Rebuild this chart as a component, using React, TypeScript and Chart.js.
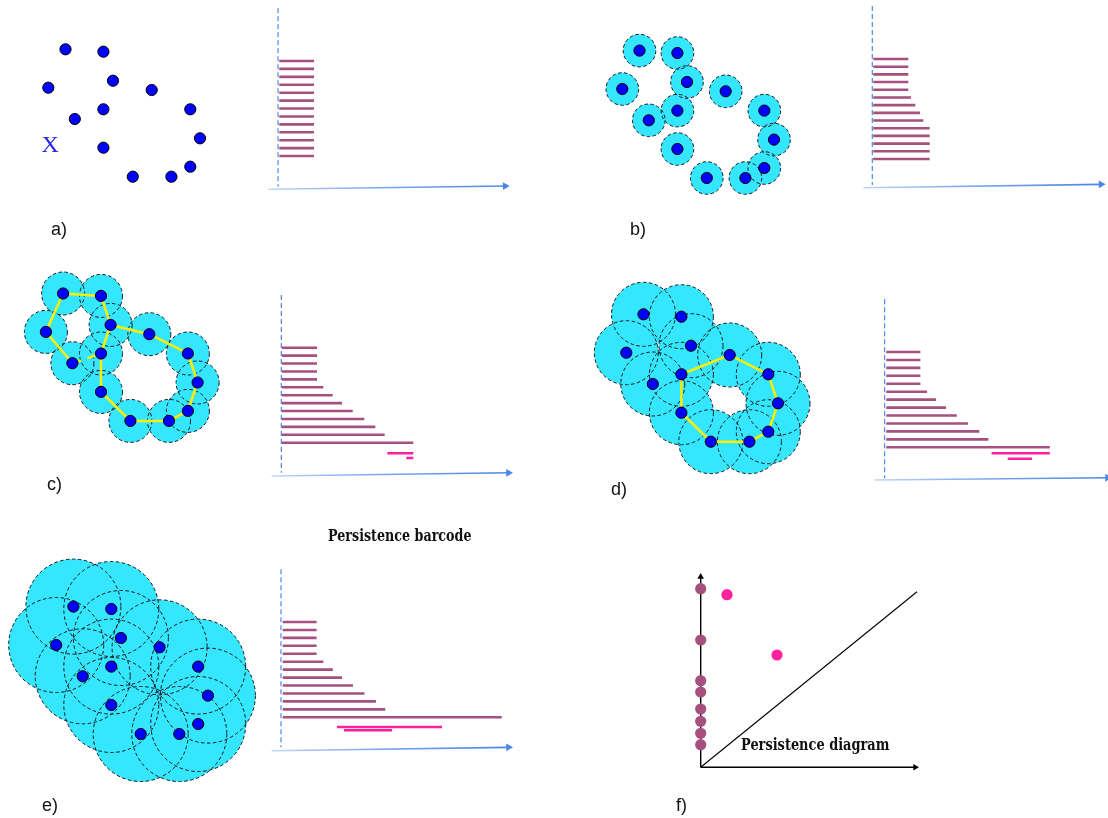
import React, { useEffect, useRef } from 'react';
import { Chart, registerables } from 'chart.js';
Chart.register(...registerables);

// ---------------- DATA ----------------
// The 13-point cloud X (same cloud in every filtration panel a–e)
const cloudX = [65.5, 103.4, 113.0, 48.3, 151.7, 103.4, 190.3, 74.8, 200.0, 103.4, 190.3, 132.8, 171.4];
const cloudY = [49.3, 51.7, 80.7, 87.7, 90.0, 109.3, 109.3, 119.0, 138.3, 147.7, 166.7, 176.7, 176.7];

// Filtration radius (ball radius) shown in panels a..e
const ballRadius = [0, 16.3, 21.5, 32, 47.5];

// 1-cycles drawn in yellow (indices into the cloud)
const cycleC = [7, 3, 0, 1, 2, 4, 6, 8, 10, 12, 11, 9, 5, 2];
const cycleCBroken = [7, 5];
const cycleD = [4, 6, 8, 10, 12, 11, 9, 5, 4];

// Persistence barcodes — H0 bar lengths (birth = 0)
const h0A = [34.7, 34.7, 34.7, 34.7, 34.7, 34.7, 34.7, 34.7, 34.7, 34.7, 34.7, 34.7, 34.7];
const h0B = [35, 35, 35, 35, 35, 37.7, 42, 46.7, 50, 56.4, 56.4, 56.4, 56.4, 56.4];
const h0C = [35, 35, 35, 35, 35, 41.3, 50.7, 60, 70.7, 82.3, 93.3, 102.7, 131.3];
const h0D = [34.1, 34.1, 34.1, 34.1, 34.1, 40.7, 49.8, 59.7, 70.5, 81.7, 93, 102.1, 163.5];
const h0E = [33.8, 33.8, 33.8, 33.8, 33.8, 40.6, 50, 59.2, 70.2, 81.7, 93.1, 102.4, 218.9];
// H1 bars (birth, death)
const h1BirthC = [105.3, 124.3];
const h1DeathC = [131.3, 131.3];
const h1BirthD = [105.3, 121.4];
const h1DeathD = [163.5, 145.7];
const h1BirthE = [54.1, 61.2];
const h1DeathE = [159.2, 109.2];

// Persistence diagram
const pdH0Death = [178.6, 127.3, 86.6, 75.3, 58.3, 46.0, 34.0, 22.6];
const pdH1Birth = [26.3, 76.3];
const pdH1Death = [172.6, 112.3];
const pdDiagEnd = [216.3, 175.6];

// Text
const panelLabels = ['a)', 'b)', 'c)', 'd)', 'e)', 'f)'];
const cloudLabel = 'X';
const barcodeTitle = 'Persistence barcode';
const diagramTitle = 'Persistence diagram';

// ---------------- LAYOUT / STYLE ----------------
const W = 1108;
const H = 818;
const cloudOffset = [[0, 0], [574, 1.3], [-2.4, 244.2], [578, 265], [7.9, 557.3]];
const barLayout = [
  { axisX: 278, top: 8.3, bottom: 186.7, a0: [268.3, 189.3], a1: [509.7, 186], start: 279.3, row0: 61, step: 7.92, h1Rows: [] as number[] },
  { axisX: 872.3, top: 6, bottom: 185, a0: [863.5, 187.7], a1: [1105.6, 184.3], start: 873.3, row0: 59, step: 7.69, h1Rows: [] as number[] },
  { axisX: 281.3, top: 295, bottom: 472.7, a0: [271.7, 476], a1: [513, 472.7], start: 282, row0: 347.7, step: 7.92, h1Rows: [453.3, 458] },
  { axisX: 884.6, top: 299.3, bottom: 478.3, a0: [874.7, 480], a1: [1112, 477.7], start: 886.3, row0: 352, step: 7.94, h1Rows: [453.3, 458.7] },
  { axisX: 281, top: 569.3, bottom: 747.3, a0: [271.7, 750.7], a1: [513, 747.3], start: 282.8, row0: 622, step: 7.94, h1Rows: [727, 730.3] },
];
const pd = { ox: 700.7, oy: 767.3, xEnd: 919, yEnd: 573 };

const CYAN = '#35E6FF';
const DOT = '#0000FF';
const YELLOW = '#FFEE00';
const BAR = '#A5507E';
const PINK = '#FF219E';
const AXIS_BLUE = '#4A86E8';

const SANS = "'Liberation Sans', Arial, sans-serif";
const SLAB = "'DejaVu Serif', serif";
const textItems = [
  { t: panelLabels[0], x: 51, base: 235.5, font: SANS, size: 18, color: '#111' },
  { t: panelLabels[1], x: 630, base: 235.5, font: SANS, size: 18, color: '#111' },
  { t: panelLabels[2], x: 47, base: 490.7, font: SANS, size: 18, color: '#111' },
  { t: panelLabels[3], x: 611, base: 495, font: SANS, size: 18, color: '#111' },
  { t: panelLabels[4], x: 42, base: 811.5, font: SANS, size: 18, color: '#111' },
  { t: panelLabels[5], x: 676, base: 811.5, font: SANS, size: 18, color: '#111' },
  { t: cloudLabel, x: 41.4, base: 152, font: "'Liberation Serif', 'Times New Roman', serif", size: 24, color: '#2424F0' },
  { t: barcodeTitle, x: 328, base: 541.5, font: SLAB, size: 16.5, color: '#111', width: 143.5, weight: 'bold' },
  { t: diagramTitle, x: 740.7, base: 750.5, font: SLAB, size: 16.5, color: '#111', width: 148.4, weight: 'bold' },
];

function textScale(t: string, font: string, size: number, weight: string, width?: number) {
  if (!width) return 1;
  const c = document.createElement('canvas').getContext('2d');
  if (!c) return 1;
  c.font = `${weight} ${size}px ${font}`;
  const w = c.measureText(t).width;
  return w > 0 ? width / w : 1;
}

// plugin: dashed point outlines (ctx dash set around a dataset's draw)
const pointDashPlugin = {
  id: 'pointDash',
  beforeDatasetDraw(chart: any, args: any) {
    const ds = chart.data.datasets[args.index];
    if (ds.pointDash) {
      chart.ctx.save();
      chart.ctx.setLineDash(ds.pointDash);
    }
  },
  afterDatasetDraw(chart: any, args: any) {
    const ds = chart.data.datasets[args.index];
    if (ds.pointDash) chart.ctx.restore();
  },
};

function line(data: any[], color: any, width: number, order: number, extra: any = {}) {
  return {
    data, showLine: true, pointRadius: 0, borderColor: color, borderWidth: width,
    borderCapStyle: 'butt', tension: 0, order, ...extra,
  };
}

function arrowHead(x0: number, y0: number, x1: number, y1: number, r: number, color: string) {
  const dx = x1 - x0;
  const dy = y1 - y0;
  const len = Math.hypot(dx, dy);
  const ux = dx / len;
  const uy = dy / len;
  const rot = (Math.atan2(uy, ux) * 180) / Math.PI + 90;
  return {
    center: [x1 - ux * r, y1 - uy * r],
    ds: (cx: number, cy: number) => ({
      data: [{ x: cx, y: cy }], pointStyle: 'triangle', pointRadius: r, pointRotation: rot,
      pointBackgroundColor: color, pointBorderColor: color, pointBorderWidth: 0, order: 5,
    }),
  };
}

function shaftGradient(xStart: number, xEnd: number) {
  return (c: any) => {
    const chart = c.chart;
    const sx = chart.scales && chart.scales.x;
    if (!sx || !chart.chartArea) return AXIS_BLUE;
    const x0 = sx.getPixelForValue(xStart);
    const x1 = sx.getPixelForValue(xEnd);
    if (!Number.isFinite(x0) || !Number.isFinite(x1) || x0 === x1) return AXIS_BLUE;
    const g = chart.ctx.createLinearGradient(x0, 0, x1, 0);
    g.addColorStop(0, 'rgba(74,134,232,0.35)');
    g.addColorStop(0.5, 'rgba(74,134,232,0.75)');
    g.addColorStop(1, 'rgba(74,134,232,1)');
    return g;
  };
}

function buildDatasets() {
  const ds: any[] = [];
  const pt = (i: number, p: number) => ({ x: cloudX[i] + cloudOffset[p][0], y: cloudY[i] + cloudOffset[p][1] });

  cloudOffset.forEach((_, p) => {
    const pts = cloudX.map((_, i) => pt(i, p));
    const r = ballRadius[p];
    if (r > 0) {
      ds.push({ data: pts, pointRadius: r, pointBackgroundColor: CYAN, pointBorderWidth: 0, order: 50 });
      ds.push({
        data: pts, pointRadius: r, pointBackgroundColor: 'rgba(0,0,0,0)', pointBorderColor: '#151515',
        pointBorderWidth: 1, pointDash: [3.5, 2.5], order: 40,
      });
    }
    ds.push({ data: pts, pointRadius: 5.6, pointBackgroundColor: DOT, pointBorderColor: '#000', pointBorderWidth: 1, order: 20 });
  });

  ds.push(line(cycleC.map((i) => pt(i, 2)), YELLOW, 2.5, 30, { borderJoinStyle: 'miter' }));
  ds.push(line(cycleCBroken.map((i) => pt(i, 2)), YELLOW, 2.5, 30, { borderDash: [9, 7, 40, 1] }));
  ds.push(line(cycleD.map((i) => pt(i, 3)), YELLOW, 2.5, 30, { borderJoinStyle: 'miter' }));

  const h0 = [h0A, h0B, h0C, h0D, h0E];
  const h1b = [[], [], h1BirthC, h1BirthD, h1BirthE];
  const h1d = [[], [], h1DeathC, h1DeathD, h1DeathE];

  barLayout.forEach((L, p) => {
    ds.push(line([{ x: L.axisX, y: L.top }, { x: L.axisX, y: L.bottom }], '#4F88E6', 1.2, 10, { borderDash: [5, 3] }));
    const head = arrowHead(L.a0[0], L.a0[1], L.a1[0], L.a1[1], 4.5, AXIS_BLUE);
    const [hx, hy] = head.center;
    ds.push(line([{ x: L.a0[0], y: L.a0[1] }, { x: hx, y: hy }], shaftGradient(L.a0[0], hx), 1.6, 10));
    ds.push(head.ds(hx, hy));

    const bars: any[] = [];
    h0[p].forEach((d, i) => {
      const y = L.row0 + i * L.step;
      bars.push({ x: L.start, y }, { x: L.start + d, y }, { x: L.start + d, y: null });
    });
    ds.push(line(bars, BAR, 2.6, 10));
    const pinks: any[] = [];
    h1b[p].forEach((b, i) => {
      const y = L.h1Rows[i];
      pinks.push({ x: L.start + b, y }, { x: L.start + h1d[p][i], y }, { x: L.start + h1d[p][i], y: null });
    });
    if (pinks.length) ds.push(line(pinks, PINK, 2.6, 10));
  });

  // persistence diagram axes
  const yHead = arrowHead(pd.ox, pd.oy, pd.ox, pd.yEnd, 3.8, '#000');
  const xHead = arrowHead(pd.ox, pd.oy, pd.xEnd, pd.oy, 3.8, '#000');
  ds.push(line([{ x: pd.ox, y: pd.oy }, { x: yHead.center[0], y: yHead.center[1] }], '#000', 1.4, 12));
  ds.push(line([{ x: pd.ox, y: pd.oy }, { x: xHead.center[0], y: xHead.center[1] }], '#000', 1.4, 12));
  ds.push(yHead.ds(yHead.center[0], yHead.center[1]));
  ds.push(xHead.ds(xHead.center[0], xHead.center[1]));
  ds.push(line([{ x: pd.ox, y: pd.oy }, { x: pd.ox + pdDiagEnd[0], y: pd.oy - pdDiagEnd[1] }], '#000', 1.1, 12));
  ds.push({
    data: pdH0Death.map((d) => ({ x: pd.ox, y: pd.oy - d })), pointRadius: 5.6,
    pointBackgroundColor: BAR, pointBorderWidth: 0, order: 4,
  });
  ds.push({
    data: pdH1Birth.map((b, i) => ({ x: pd.ox + b, y: pd.oy - pdH1Death[i] })), pointRadius: 5.6,
    pointBackgroundColor: PINK, pointBorderWidth: 0, order: 4,
  });
  return ds;
}

export default function App() {
  const ref = useRef<HTMLCanvasElement>(null);
  useEffect(() => {
    document.body.style.margin = '0';
    const chart = new Chart(ref.current as HTMLCanvasElement, {
      type: 'scatter',
      data: { datasets: buildDatasets() },
      options: {
        responsive: false,
        animation: false,
        events: [],
        layout: { padding: 0, autoPadding: false },
        scales: {
          x: { type: 'linear', min: 0, max: W, display: false },
          y: { type: 'linear', min: 0, max: H, reverse: true, display: false },
        },
        plugins: { legend: { display: false }, tooltip: { enabled: false } },
      },
      plugins: [pointDashPlugin],
    } as any);
    return () => chart.destroy();
  }, []);

  return (
    <div style={{ position: 'relative', width: W, height: H, overflow: 'hidden', background: '#fff' }}>
      <canvas ref={ref} width={W} height={H} style={{ position: 'absolute', left: 0, top: 0, width: W, height: H }} />
      {textItems.map((it, i) => {
        const weight = (it as any).weight || 'normal';
        const sx = textScale(it.t, it.font, it.size, weight, (it as any).width);
        return (
          <div
            key={i}
            style={{
              position: 'absolute', left: it.x, top: it.base - it.size * 0.846,
              fontFamily: it.font, fontSize: it.size, fontWeight: weight as any, lineHeight: `${it.size}px`, color: it.color,
              whiteSpace: 'nowrap', transform: sx !== 1 ? `scaleX(${sx})` : undefined, transformOrigin: '0 0',
            }}
          >
            {it.t}
          </div>
        );
      })}
    </div>
  );
}
